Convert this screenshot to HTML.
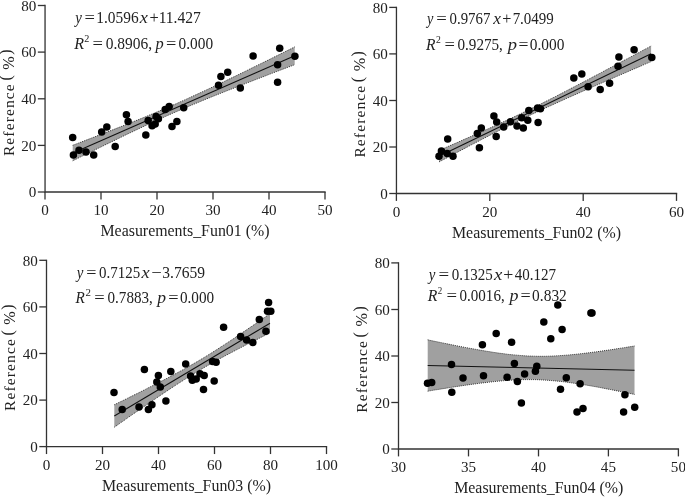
<!DOCTYPE html>
<html><head><meta charset="utf-8"><style>
html,body{margin:0;padding:0;background:#fff}
svg{display:block}
text{font-family:"Liberation Serif",serif;fill:#222}
.t{font-size:15.1px}
.l{font-size:15.9px}
.yl{font-size:15.5px;letter-spacing:1.12px}
.yp{font-size:16.2px}
.ypp{font-size:15.8px}
.e{font-size:16.7px}
.i{font-style:italic}
.sup{font-size:9.3px}
</style></head><body>
<svg width="685" height="497" viewBox="0 0 685 497">
<defs><filter id="idf" x="0" y="0" width="685" height="497" filterUnits="userSpaceOnUse" color-interpolation-filters="sRGB"><feOffset dx="0" dy="0"/></filter></defs>
<rect width="685" height="497" fill="#fff"/>
<g filter="url(#idf)">
<path d="M72.7,145.3 L76.4,143.9 L80.1,142.5 L83.8,141.1 L87.5,139.6 L91.2,138.2 L94.9,136.8 L98.6,135.3 L102.3,133.9 L106.0,132.5 L109.7,131.0 L113.4,129.6 L117.1,128.1 L120.8,126.7 L124.5,125.2 L128.2,123.7 L131.9,122.3 L135.6,120.8 L139.3,119.3 L143.0,117.8 L146.7,116.3 L150.4,114.7 L154.1,113.2 L157.8,111.6 L161.5,110.1 L165.2,108.5 L168.9,106.9 L172.6,105.3 L176.3,103.7 L180.0,102.0 L183.7,100.4 L187.4,98.7 L191.1,97.0 L194.8,95.3 L198.5,93.6 L202.2,91.9 L205.9,90.2 L209.6,88.4 L213.3,86.7 L217.0,84.9 L220.7,83.2 L224.4,81.4 L228.1,79.6 L231.8,77.8 L235.5,76.1 L239.2,74.3 L242.9,72.5 L246.6,70.7 L250.3,68.8 L254.0,67.0 L257.7,65.2 L261.4,63.4 L265.1,61.6 L268.8,59.8 L272.5,57.9 L276.2,56.1 L279.9,54.3 L283.6,52.4 L287.3,50.6 L291.0,48.8 L294.7,46.9 L294.7,64.7 L291.0,66.1 L287.3,67.5 L283.6,68.9 L279.9,70.3 L276.2,71.7 L272.5,73.1 L268.8,74.5 L265.1,76.0 L261.4,77.4 L257.7,78.8 L254.0,80.2 L250.3,81.7 L246.6,83.1 L242.9,84.5 L239.2,86.0 L235.5,87.4 L231.8,88.9 L228.1,90.3 L224.4,91.8 L220.7,93.3 L217.0,94.7 L213.3,96.2 L209.6,97.7 L205.9,99.2 L202.2,100.7 L198.5,102.3 L194.8,103.8 L191.1,105.3 L187.4,106.9 L183.7,108.5 L180.0,110.1 L176.3,111.7 L172.6,113.3 L168.9,114.9 L165.2,116.6 L161.5,118.2 L157.8,119.9 L154.1,121.6 L150.4,123.3 L146.7,125.0 L143.0,126.7 L139.3,128.5 L135.6,130.2 L131.9,132.0 L128.2,133.7 L124.5,135.5 L120.8,137.3 L117.1,139.1 L113.4,140.9 L109.7,142.7 L106.0,144.4 L102.3,146.3 L98.6,148.1 L94.9,149.9 L91.2,151.7 L87.5,153.5 L83.8,155.3 L80.1,157.1 L76.4,159.0 L72.7,160.8Z" fill="#a0a0a0"/>
<path d="M72.7,145.3 L76.4,143.9 L80.1,142.5 L83.8,141.1 L87.5,139.6 L91.2,138.2 L94.9,136.8 L98.6,135.3 L102.3,133.9 L106.0,132.5 L109.7,131.0 L113.4,129.6 L117.1,128.1 L120.8,126.7 L124.5,125.2 L128.2,123.7 L131.9,122.3 L135.6,120.8 L139.3,119.3 L143.0,117.8 L146.7,116.3 L150.4,114.7 L154.1,113.2 L157.8,111.6 L161.5,110.1 L165.2,108.5 L168.9,106.9 L172.6,105.3 L176.3,103.7 L180.0,102.0 L183.7,100.4 L187.4,98.7 L191.1,97.0 L194.8,95.3 L198.5,93.6 L202.2,91.9 L205.9,90.2 L209.6,88.4 L213.3,86.7 L217.0,84.9 L220.7,83.2 L224.4,81.4 L228.1,79.6 L231.8,77.8 L235.5,76.1 L239.2,74.3 L242.9,72.5 L246.6,70.7 L250.3,68.8 L254.0,67.0 L257.7,65.2 L261.4,63.4 L265.1,61.6 L268.8,59.8 L272.5,57.9 L276.2,56.1 L279.9,54.3 L283.6,52.4 L287.3,50.6 L291.0,48.8 L294.7,46.9" fill="none" stroke="#333" stroke-width="1" stroke-dasharray="1 1"/>
<path d="M72.7,160.8 L76.4,159.0 L80.1,157.1 L83.8,155.3 L87.5,153.5 L91.2,151.7 L94.9,149.9 L98.6,148.1 L102.3,146.3 L106.0,144.4 L109.7,142.7 L113.4,140.9 L117.1,139.1 L120.8,137.3 L124.5,135.5 L128.2,133.7 L131.9,132.0 L135.6,130.2 L139.3,128.5 L143.0,126.7 L146.7,125.0 L150.4,123.3 L154.1,121.6 L157.8,119.9 L161.5,118.2 L165.2,116.6 L168.9,114.9 L172.6,113.3 L176.3,111.7 L180.0,110.1 L183.7,108.5 L187.4,106.9 L191.1,105.3 L194.8,103.8 L198.5,102.3 L202.2,100.7 L205.9,99.2 L209.6,97.7 L213.3,96.2 L217.0,94.7 L220.7,93.3 L224.4,91.8 L228.1,90.3 L231.8,88.9 L235.5,87.4 L239.2,86.0 L242.9,84.5 L246.6,83.1 L250.3,81.7 L254.0,80.2 L257.7,78.8 L261.4,77.4 L265.1,76.0 L268.8,74.5 L272.5,73.1 L276.2,71.7 L279.9,70.3 L283.6,68.9 L287.3,67.5 L291.0,66.1 L294.7,64.7" fill="none" stroke="#333" stroke-width="1" stroke-dasharray="1 1"/>
<line x1="73.5" y1="152.7" x2="294.7" y2="55.8" stroke="#111" stroke-width="1.05"/>
<path d="M45.05,4.85 V192.0 H325.65" fill="none" stroke="#333" stroke-width="1.3"/>
<line x1="37.85" y1="192.0" x2="45.05" y2="192.0" stroke="#333" stroke-width="1.3"/>
<text x="36.35" y="197.2" text-anchor="end" class="t">0</text>
<line x1="37.85" y1="145.4" x2="45.05" y2="145.4" stroke="#333" stroke-width="1.3"/>
<text x="36.35" y="150.6" text-anchor="end" class="t">20</text>
<line x1="37.85" y1="98.8" x2="45.05" y2="98.8" stroke="#333" stroke-width="1.3"/>
<text x="36.35" y="104.0" text-anchor="end" class="t">40</text>
<line x1="37.85" y1="52.1" x2="45.05" y2="52.1" stroke="#333" stroke-width="1.3"/>
<text x="36.35" y="57.3" text-anchor="end" class="t">60</text>
<line x1="37.85" y1="5.5" x2="45.05" y2="5.5" stroke="#333" stroke-width="1.3"/>
<text x="36.35" y="10.7" text-anchor="end" class="t">80</text>
<line x1="45.0" y1="192.0" x2="45.0" y2="199.4" stroke="#333" stroke-width="1.3"/>
<text x="45.0" y="215.0" text-anchor="middle" class="t">0</text>
<line x1="101.0" y1="192.0" x2="101.0" y2="199.4" stroke="#333" stroke-width="1.3"/>
<text x="101.0" y="215.0" text-anchor="middle" class="t">10</text>
<line x1="157.0" y1="192.0" x2="157.0" y2="199.4" stroke="#333" stroke-width="1.3"/>
<text x="157.0" y="215.0" text-anchor="middle" class="t">20</text>
<line x1="213.0" y1="192.0" x2="213.0" y2="199.4" stroke="#333" stroke-width="1.3"/>
<text x="213.0" y="215.0" text-anchor="middle" class="t">30</text>
<line x1="269.0" y1="192.0" x2="269.0" y2="199.4" stroke="#333" stroke-width="1.3"/>
<text x="269.0" y="215.0" text-anchor="middle" class="t">40</text>
<line x1="325.0" y1="192.0" x2="325.0" y2="199.4" stroke="#333" stroke-width="1.3"/>
<text x="325.0" y="215.0" text-anchor="middle" class="t">50</text>
<circle cx="72.7" cy="137.4" r="3.75"/>
<circle cx="73.4" cy="154.9" r="3.75"/>
<circle cx="79.0" cy="150.2" r="3.75"/>
<circle cx="86.0" cy="152.1" r="3.75"/>
<circle cx="93.7" cy="154.9" r="3.75"/>
<circle cx="101.7" cy="132.0" r="3.75"/>
<circle cx="106.8" cy="127.1" r="3.75"/>
<circle cx="115.2" cy="146.5" r="3.75"/>
<circle cx="126.4" cy="114.7" r="3.75"/>
<circle cx="128.1" cy="121.5" r="3.75"/>
<circle cx="145.8" cy="135.0" r="3.75"/>
<circle cx="148.2" cy="120.6" r="3.75"/>
<circle cx="152.1" cy="125.7" r="3.75"/>
<circle cx="155.2" cy="124.1" r="3.75"/>
<circle cx="156.1" cy="116.4" r="3.75"/>
<circle cx="158.4" cy="118.7" r="3.75"/>
<circle cx="165.2" cy="109.6" r="3.75"/>
<circle cx="169.2" cy="106.6" r="3.75"/>
<circle cx="172.0" cy="126.6" r="3.75"/>
<circle cx="176.9" cy="121.5" r="3.75"/>
<circle cx="183.7" cy="107.7" r="3.75"/>
<circle cx="218.5" cy="85.2" r="3.75"/>
<circle cx="220.9" cy="76.6" r="3.75"/>
<circle cx="227.7" cy="72.2" r="3.75"/>
<circle cx="240.3" cy="88.0" r="3.75"/>
<circle cx="253.1" cy="56.0" r="3.75"/>
<circle cx="277.6" cy="82.2" r="3.75"/>
<circle cx="277.6" cy="64.7" r="3.75"/>
<circle cx="279.7" cy="48.3" r="3.75"/>
<circle cx="294.9" cy="56.3" r="3.75"/>
<text x="185.0" y="236.0" text-anchor="middle" class="l" style="letter-spacing:0px">Measurements_Fun01 (%)</text>
<text transform="translate(13.70,156.1) rotate(-90)" class="yl">Reference</text>
<text transform="translate(11.45,80.6) rotate(-90)" class="ypp">(</text>
<text transform="translate(13.80,69.8) rotate(-90)" class="yp">%</text>
<text transform="translate(11.45,54.8) rotate(-90)" class="ypp">)</text>
<text transform="translate(75.37,22.6) scale(0.893,1)" class="e i">y</text>
<text transform="translate(84.42,22.6) scale(1.108,1)" class="e">=</text>
<text transform="translate(96.25,22.6) scale(0.923,1)" class="e">1.0596</text>
<text transform="translate(139.83,22.6) scale(1.091,1)" class="e i">x</text>
<text transform="translate(149.52,22.6) scale(0.981,1)" class="e">+</text>
<text transform="translate(158.64,22.6) scale(0.931,1)" class="e">11.427</text>
<text transform="translate(74.22,48.5) scale(0.964,1)" class="e i">R</text>
<text transform="translate(84.37,41.6) scale(1.095,1)" class="sup">2</text>
<text transform="translate(92.62,48.5) scale(1.108,1)" class="e">=</text>
<text transform="translate(105.72,48.5) scale(0.927,1)" class="e">0.8906,</text>
<text transform="translate(155.58,48.5) scale(0.983,1)" class="e i">p</text>
<text transform="translate(166.03,48.5) scale(1.096,1)" class="e">=</text>
<text transform="translate(178.52,48.5) scale(0.920,1)" class="e">0.000</text>
<path d="M439.0,150.5 L442.5,148.9 L446.1,147.4 L449.6,145.8 L453.1,144.3 L456.7,142.8 L460.2,141.2 L463.7,139.6 L467.3,138.1 L470.8,136.5 L474.4,135.0 L477.9,133.4 L481.4,131.8 L485.0,130.2 L488.5,128.7 L492.0,127.1 L495.6,125.5 L499.1,123.8 L502.6,122.2 L506.2,120.6 L509.7,118.9 L513.2,117.3 L516.8,115.6 L520.3,113.9 L523.8,112.2 L527.4,110.5 L530.9,108.8 L534.4,107.1 L538.0,105.3 L541.5,103.6 L545.0,101.8 L548.6,100.0 L552.1,98.2 L555.7,96.4 L559.2,94.6 L562.7,92.8 L566.3,90.9 L569.8,89.1 L573.3,87.3 L576.9,85.4 L580.4,83.6 L583.9,81.7 L587.5,79.9 L591.0,78.0 L594.5,76.1 L598.1,74.3 L601.6,72.4 L605.1,70.5 L608.7,68.6 L612.2,66.8 L615.8,64.9 L619.3,63.0 L622.8,61.1 L626.4,59.2 L629.9,57.4 L633.4,55.5 L637.0,53.6 L640.5,51.7 L644.0,49.8 L647.6,47.9 L651.1,46.0 L651.1,61.6 L647.6,63.1 L644.0,64.6 L640.5,66.2 L637.0,67.7 L633.4,69.2 L629.9,70.7 L626.4,72.3 L622.8,73.8 L619.3,75.3 L615.8,76.8 L612.2,78.4 L608.7,79.9 L605.1,81.5 L601.6,83.0 L598.1,84.5 L594.5,86.1 L591.0,87.6 L587.5,89.2 L583.9,90.7 L580.4,92.3 L576.9,93.9 L573.3,95.4 L569.8,97.0 L566.3,98.6 L562.7,100.2 L559.2,101.8 L555.7,103.4 L552.1,105.0 L548.6,106.6 L545.0,108.2 L541.5,109.9 L538.0,111.5 L534.4,113.2 L530.9,114.8 L527.4,116.5 L523.8,118.2 L520.3,120.0 L516.8,121.7 L513.2,123.4 L509.7,125.2 L506.2,127.0 L502.6,128.7 L499.1,130.5 L495.6,132.3 L492.0,134.1 L488.5,136.0 L485.0,137.8 L481.4,139.6 L477.9,141.5 L474.4,143.3 L470.8,145.1 L467.3,147.0 L463.7,148.9 L460.2,150.7 L456.7,152.6 L453.1,154.5 L449.6,156.3 L446.1,158.2 L442.5,160.1 L439.0,161.9Z" fill="#a0a0a0"/>
<path d="M439.0,150.5 L442.5,148.9 L446.1,147.4 L449.6,145.8 L453.1,144.3 L456.7,142.8 L460.2,141.2 L463.7,139.6 L467.3,138.1 L470.8,136.5 L474.4,135.0 L477.9,133.4 L481.4,131.8 L485.0,130.2 L488.5,128.7 L492.0,127.1 L495.6,125.5 L499.1,123.8 L502.6,122.2 L506.2,120.6 L509.7,118.9 L513.2,117.3 L516.8,115.6 L520.3,113.9 L523.8,112.2 L527.4,110.5 L530.9,108.8 L534.4,107.1 L538.0,105.3 L541.5,103.6 L545.0,101.8 L548.6,100.0 L552.1,98.2 L555.7,96.4 L559.2,94.6 L562.7,92.8 L566.3,90.9 L569.8,89.1 L573.3,87.3 L576.9,85.4 L580.4,83.6 L583.9,81.7 L587.5,79.9 L591.0,78.0 L594.5,76.1 L598.1,74.3 L601.6,72.4 L605.1,70.5 L608.7,68.6 L612.2,66.8 L615.8,64.9 L619.3,63.0 L622.8,61.1 L626.4,59.2 L629.9,57.4 L633.4,55.5 L637.0,53.6 L640.5,51.7 L644.0,49.8 L647.6,47.9 L651.1,46.0" fill="none" stroke="#333" stroke-width="1" stroke-dasharray="1 1"/>
<path d="M439.0,161.9 L442.5,160.1 L446.1,158.2 L449.6,156.3 L453.1,154.5 L456.7,152.6 L460.2,150.7 L463.7,148.9 L467.3,147.0 L470.8,145.1 L474.4,143.3 L477.9,141.5 L481.4,139.6 L485.0,137.8 L488.5,136.0 L492.0,134.1 L495.6,132.3 L499.1,130.5 L502.6,128.7 L506.2,127.0 L509.7,125.2 L513.2,123.4 L516.8,121.7 L520.3,120.0 L523.8,118.2 L527.4,116.5 L530.9,114.8 L534.4,113.2 L538.0,111.5 L541.5,109.9 L545.0,108.2 L548.6,106.6 L552.1,105.0 L555.7,103.4 L559.2,101.8 L562.7,100.2 L566.3,98.6 L569.8,97.0 L573.3,95.4 L576.9,93.9 L580.4,92.3 L583.9,90.7 L587.5,89.2 L591.0,87.6 L594.5,86.1 L598.1,84.5 L601.6,83.0 L605.1,81.5 L608.7,79.9 L612.2,78.4 L615.8,76.8 L619.3,75.3 L622.8,73.8 L626.4,72.3 L629.9,70.7 L633.4,69.2 L637.0,67.7 L640.5,66.2 L644.0,64.6 L647.6,63.1 L651.1,61.6" fill="none" stroke="#333" stroke-width="1" stroke-dasharray="1 1"/>
<line x1="439" y1="156.2" x2="651.1" y2="53.8" stroke="#111" stroke-width="1.05"/>
<path d="M396.45,6.75 V193.5 H677.20" fill="none" stroke="#333" stroke-width="1.3"/>
<line x1="389.25" y1="193.5" x2="396.45" y2="193.5" stroke="#333" stroke-width="1.3"/>
<text x="387.75" y="198.7" text-anchor="end" class="t">0</text>
<line x1="389.25" y1="147.0" x2="396.45" y2="147.0" stroke="#333" stroke-width="1.3"/>
<text x="387.75" y="152.2" text-anchor="end" class="t">20</text>
<line x1="389.25" y1="100.5" x2="396.45" y2="100.5" stroke="#333" stroke-width="1.3"/>
<text x="387.75" y="105.7" text-anchor="end" class="t">40</text>
<line x1="389.25" y1="53.9" x2="396.45" y2="53.9" stroke="#333" stroke-width="1.3"/>
<text x="387.75" y="59.1" text-anchor="end" class="t">60</text>
<line x1="389.25" y1="7.4" x2="396.45" y2="7.4" stroke="#333" stroke-width="1.3"/>
<text x="387.75" y="12.6" text-anchor="end" class="t">80</text>
<line x1="396.4" y1="193.5" x2="396.4" y2="200.9" stroke="#333" stroke-width="1.3"/>
<text x="396.4" y="216.5" text-anchor="middle" class="t">0</text>
<line x1="489.8" y1="193.5" x2="489.8" y2="200.9" stroke="#333" stroke-width="1.3"/>
<text x="489.8" y="216.5" text-anchor="middle" class="t">20</text>
<line x1="583.2" y1="193.5" x2="583.2" y2="200.9" stroke="#333" stroke-width="1.3"/>
<text x="583.2" y="216.5" text-anchor="middle" class="t">40</text>
<line x1="676.5" y1="193.5" x2="676.5" y2="200.9" stroke="#333" stroke-width="1.3"/>
<text x="676.5" y="216.5" text-anchor="middle" class="t">60</text>
<circle cx="439.0" cy="156.2" r="3.75"/>
<circle cx="441.4" cy="151.1" r="3.75"/>
<circle cx="447.7" cy="139.0" r="3.75"/>
<circle cx="447.2" cy="153.4" r="3.75"/>
<circle cx="453.0" cy="156.2" r="3.75"/>
<circle cx="477.3" cy="133.6" r="3.75"/>
<circle cx="479.4" cy="147.8" r="3.75"/>
<circle cx="481.3" cy="128.0" r="3.75"/>
<circle cx="493.9" cy="116.1" r="3.75"/>
<circle cx="496.2" cy="136.4" r="3.75"/>
<circle cx="496.7" cy="122.1" r="3.75"/>
<circle cx="503.7" cy="127.0" r="3.75"/>
<circle cx="510.5" cy="121.7" r="3.75"/>
<circle cx="517.0" cy="125.9" r="3.75"/>
<circle cx="521.7" cy="117.7" r="3.75"/>
<circle cx="523.3" cy="128.0" r="3.75"/>
<circle cx="527.8" cy="120.3" r="3.75"/>
<circle cx="528.8" cy="110.5" r="3.75"/>
<circle cx="537.6" cy="108.1" r="3.75"/>
<circle cx="538.1" cy="122.4" r="3.75"/>
<circle cx="540.4" cy="108.8" r="3.75"/>
<circle cx="573.8" cy="77.9" r="3.75"/>
<circle cx="581.8" cy="73.9" r="3.75"/>
<circle cx="588.1" cy="86.8" r="3.75"/>
<circle cx="600.2" cy="89.4" r="3.75"/>
<circle cx="609.6" cy="83.3" r="3.75"/>
<circle cx="618.0" cy="66.3" r="3.75"/>
<circle cx="618.9" cy="57.1" r="3.75"/>
<circle cx="634.1" cy="49.7" r="3.75"/>
<circle cx="651.8" cy="57.4" r="3.75"/>
<text x="536.5" y="237.5" text-anchor="middle" class="l" style="letter-spacing:0px">Measurements_Fun02 (%)</text>
<text transform="translate(365.10,157.6) rotate(-90)" class="yl">Reference</text>
<text transform="translate(362.85,82.2) rotate(-90)" class="ypp">(</text>
<text transform="translate(365.20,71.3) rotate(-90)" class="yp">%</text>
<text transform="translate(362.85,56.4) rotate(-90)" class="ypp">)</text>
<text transform="translate(427.12,24.4) scale(0.859,1)" class="e i">y</text>
<text transform="translate(436.31,24.4) scale(1.121,1)" class="e">=</text>
<text transform="translate(449.54,24.4) scale(0.888,1)" class="e">0.9767</text>
<text transform="translate(493.22,24.4) scale(1.038,1)" class="e i">x</text>
<text transform="translate(502.13,24.4) scale(0.968,1)" class="e">+</text>
<text transform="translate(512.63,24.4) scale(0.897,1)" class="e">7.0499</text>
<text transform="translate(426.02,49.6) scale(0.934,1)" class="e i">R</text>
<text transform="translate(435.89,42.7) scale(1.042,1)" class="sup">2</text>
<text transform="translate(444.62,49.6) scale(1.108,1)" class="e">=</text>
<text transform="translate(457.43,49.6) scale(0.909,1)" class="e">0.9275,</text>
<text transform="translate(507.81,49.6) scale(1.107,1)" class="e i">p</text>
<text transform="translate(518.56,49.6) scale(1.057,1)" class="e">=</text>
<text transform="translate(529.72,49.6) scale(0.922,1)" class="e">0.000</text>
<path d="M114.3,404.8 L116.9,403.5 L119.5,402.2 L122.1,401.0 L124.7,399.7 L127.3,398.4 L129.9,397.1 L132.5,395.8 L135.1,394.5 L137.7,393.3 L140.2,392.0 L142.8,390.7 L145.4,389.4 L148.0,388.0 L150.6,386.7 L153.2,385.4 L155.8,384.1 L158.4,382.8 L161.0,381.4 L163.6,380.1 L166.2,378.7 L168.8,377.4 L171.4,376.0 L174.0,374.6 L176.6,373.2 L179.2,371.8 L181.8,370.4 L184.4,369.0 L187.0,367.5 L189.6,366.0 L192.1,364.6 L194.7,363.1 L197.3,361.6 L199.9,360.0 L202.5,358.5 L205.1,356.9 L207.7,355.3 L210.3,353.7 L212.9,352.1 L215.5,350.4 L218.1,348.8 L220.7,347.1 L223.3,345.4 L225.9,343.7 L228.5,342.0 L231.1,340.3 L233.7,338.6 L236.3,336.8 L238.9,335.1 L241.5,333.3 L244.0,331.6 L246.6,329.8 L249.2,328.0 L251.8,326.3 L254.4,324.5 L257.0,322.7 L259.6,320.9 L262.2,319.1 L264.8,317.3 L267.4,315.5 L270.0,313.7 L270.0,332.9 L267.4,334.2 L264.8,335.5 L262.2,336.8 L259.6,338.1 L257.0,339.4 L254.4,340.7 L251.8,342.0 L249.2,343.3 L246.6,344.6 L244.0,345.9 L241.5,347.3 L238.9,348.6 L236.3,349.9 L233.7,351.3 L231.1,352.7 L228.5,354.0 L225.9,355.4 L223.3,356.8 L220.7,358.2 L218.1,359.6 L215.5,361.1 L212.9,362.5 L210.3,364.0 L207.7,365.5 L205.1,367.0 L202.5,368.5 L199.9,370.0 L197.3,371.6 L194.7,373.1 L192.1,374.7 L189.6,376.3 L187.0,378.0 L184.4,379.6 L181.8,381.3 L179.2,382.9 L176.6,384.6 L174.0,386.3 L171.4,388.0 L168.8,389.7 L166.2,391.5 L163.6,393.2 L161.0,395.0 L158.4,396.7 L155.8,398.5 L153.2,400.2 L150.6,402.0 L148.0,403.8 L145.4,405.6 L142.8,407.4 L140.2,409.1 L137.7,410.9 L135.1,412.7 L132.5,414.5 L129.9,416.3 L127.3,418.1 L124.7,420.0 L122.1,421.8 L119.5,423.6 L116.9,425.4 L114.3,427.2Z" fill="#a0a0a0"/>
<path d="M114.3,404.8 L116.9,403.5 L119.5,402.2 L122.1,401.0 L124.7,399.7 L127.3,398.4 L129.9,397.1 L132.5,395.8 L135.1,394.5 L137.7,393.3 L140.2,392.0 L142.8,390.7 L145.4,389.4 L148.0,388.0 L150.6,386.7 L153.2,385.4 L155.8,384.1 L158.4,382.8 L161.0,381.4 L163.6,380.1 L166.2,378.7 L168.8,377.4 L171.4,376.0 L174.0,374.6 L176.6,373.2 L179.2,371.8 L181.8,370.4 L184.4,369.0 L187.0,367.5 L189.6,366.0 L192.1,364.6 L194.7,363.1 L197.3,361.6 L199.9,360.0 L202.5,358.5 L205.1,356.9 L207.7,355.3 L210.3,353.7 L212.9,352.1 L215.5,350.4 L218.1,348.8 L220.7,347.1 L223.3,345.4 L225.9,343.7 L228.5,342.0 L231.1,340.3 L233.7,338.6 L236.3,336.8 L238.9,335.1 L241.5,333.3 L244.0,331.6 L246.6,329.8 L249.2,328.0 L251.8,326.3 L254.4,324.5 L257.0,322.7 L259.6,320.9 L262.2,319.1 L264.8,317.3 L267.4,315.5 L270.0,313.7" fill="none" stroke="#333" stroke-width="1" stroke-dasharray="1 1"/>
<path d="M114.3,427.2 L116.9,425.4 L119.5,423.6 L122.1,421.8 L124.7,420.0 L127.3,418.1 L129.9,416.3 L132.5,414.5 L135.1,412.7 L137.7,410.9 L140.2,409.1 L142.8,407.4 L145.4,405.6 L148.0,403.8 L150.6,402.0 L153.2,400.2 L155.8,398.5 L158.4,396.7 L161.0,395.0 L163.6,393.2 L166.2,391.5 L168.8,389.7 L171.4,388.0 L174.0,386.3 L176.6,384.6 L179.2,382.9 L181.8,381.3 L184.4,379.6 L187.0,378.0 L189.6,376.3 L192.1,374.7 L194.7,373.1 L197.3,371.6 L199.9,370.0 L202.5,368.5 L205.1,367.0 L207.7,365.5 L210.3,364.0 L212.9,362.5 L215.5,361.1 L218.1,359.6 L220.7,358.2 L223.3,356.8 L225.9,355.4 L228.5,354.0 L231.1,352.7 L233.7,351.3 L236.3,349.9 L238.9,348.6 L241.5,347.3 L244.0,345.9 L246.6,344.6 L249.2,343.3 L251.8,342.0 L254.4,340.7 L257.0,339.4 L259.6,338.1 L262.2,336.8 L264.8,335.5 L267.4,334.2 L270.0,332.9" fill="none" stroke="#333" stroke-width="1" stroke-dasharray="1 1"/>
<line x1="114.3" y1="416.0" x2="270" y2="323.3" stroke="#111" stroke-width="1.05"/>
<path d="M46.5,259.65 V446.65 H327.15" fill="none" stroke="#333" stroke-width="1.3"/>
<line x1="39.30" y1="446.6" x2="46.5" y2="446.6" stroke="#333" stroke-width="1.3"/>
<text x="37.80" y="451.8" text-anchor="end" class="t">0</text>
<line x1="39.30" y1="400.1" x2="46.5" y2="400.1" stroke="#333" stroke-width="1.3"/>
<text x="37.80" y="405.3" text-anchor="end" class="t">20</text>
<line x1="39.30" y1="353.5" x2="46.5" y2="353.5" stroke="#333" stroke-width="1.3"/>
<text x="37.80" y="358.7" text-anchor="end" class="t">40</text>
<line x1="39.30" y1="306.9" x2="46.5" y2="306.9" stroke="#333" stroke-width="1.3"/>
<text x="37.80" y="312.1" text-anchor="end" class="t">60</text>
<line x1="39.30" y1="260.3" x2="46.5" y2="260.3" stroke="#333" stroke-width="1.3"/>
<text x="37.80" y="265.5" text-anchor="end" class="t">80</text>
<line x1="46.5" y1="446.65" x2="46.5" y2="454.04999999999995" stroke="#333" stroke-width="1.3"/>
<text x="46.5" y="469.6" text-anchor="middle" class="t">0</text>
<line x1="102.5" y1="446.65" x2="102.5" y2="454.04999999999995" stroke="#333" stroke-width="1.3"/>
<text x="102.5" y="469.6" text-anchor="middle" class="t">20</text>
<line x1="158.5" y1="446.65" x2="158.5" y2="454.04999999999995" stroke="#333" stroke-width="1.3"/>
<text x="158.5" y="469.6" text-anchor="middle" class="t">40</text>
<line x1="214.5" y1="446.65" x2="214.5" y2="454.04999999999995" stroke="#333" stroke-width="1.3"/>
<text x="214.5" y="469.6" text-anchor="middle" class="t">60</text>
<line x1="270.5" y1="446.65" x2="270.5" y2="454.04999999999995" stroke="#333" stroke-width="1.3"/>
<text x="270.5" y="469.6" text-anchor="middle" class="t">80</text>
<line x1="326.5" y1="446.65" x2="326.5" y2="454.04999999999995" stroke="#333" stroke-width="1.3"/>
<text x="326.5" y="469.6" text-anchor="middle" class="t">100</text>
<circle cx="114.0" cy="392.4" r="3.75"/>
<circle cx="122.2" cy="409.5" r="3.75"/>
<circle cx="139.0" cy="406.9" r="3.75"/>
<circle cx="144.4" cy="369.5" r="3.75"/>
<circle cx="148.4" cy="409.5" r="3.75"/>
<circle cx="151.9" cy="404.8" r="3.75"/>
<circle cx="158.4" cy="375.6" r="3.75"/>
<circle cx="156.8" cy="381.9" r="3.75"/>
<circle cx="160.3" cy="387.0" r="3.75"/>
<circle cx="165.9" cy="401.1" r="3.75"/>
<circle cx="170.8" cy="371.4" r="3.75"/>
<circle cx="185.7" cy="363.9" r="3.75"/>
<circle cx="190.6" cy="376.1" r="3.75"/>
<circle cx="192.3" cy="380.3" r="3.75"/>
<circle cx="196.2" cy="379.1" r="3.75"/>
<circle cx="200.0" cy="373.7" r="3.75"/>
<circle cx="204.2" cy="375.4" r="3.75"/>
<circle cx="203.5" cy="389.6" r="3.75"/>
<circle cx="212.6" cy="361.6" r="3.75"/>
<circle cx="216.1" cy="362.3" r="3.75"/>
<circle cx="214.2" cy="381.0" r="3.75"/>
<circle cx="223.6" cy="327.2" r="3.75"/>
<circle cx="240.6" cy="336.6" r="3.75"/>
<circle cx="246.6" cy="339.9" r="3.75"/>
<circle cx="252.8" cy="342.5" r="3.75"/>
<circle cx="259.3" cy="319.4" r="3.75"/>
<circle cx="265.9" cy="331.3" r="3.75"/>
<circle cx="268.6" cy="302.6" r="3.75"/>
<circle cx="267.5" cy="311.2" r="3.75"/>
<circle cx="270.8" cy="311.2" r="3.75"/>
<text x="186.5" y="490.8" text-anchor="middle" class="l" style="letter-spacing:0px">Measurements_Fun03 (%)</text>
<text transform="translate(15.15,411.0) rotate(-90)" class="yl">Reference</text>
<text transform="translate(12.90,335.6) rotate(-90)" class="ypp">(</text>
<text transform="translate(15.25,324.7) rotate(-90)" class="yp">%</text>
<text transform="translate(12.90,309.8) rotate(-90)" class="ypp">)</text>
<text transform="translate(76.77,277.5) scale(0.893,1)" class="e i">y</text>
<text transform="translate(86.24,277.5) scale(1.083,1)" class="e">=</text>
<text transform="translate(99.04,277.5) scale(0.895,1)" class="e">0.7125</text>
<text transform="translate(141.43,277.5) scale(1.104,1)" class="e i">x</text>
<text transform="translate(151.22,277.5) scale(1.108,1)" class="e">&#8722;</text>
<text transform="translate(162.26,277.5) scale(0.931,1)" class="e">3.7659</text>
<text transform="translate(75.61,302.8) scale(0.914,1)" class="e i">R</text>
<text transform="translate(85.54,295.9) scale(1.175,1)" class="sup">2</text>
<text transform="translate(94.32,302.8) scale(1.108,1)" class="e">=</text>
<text transform="translate(107.53,302.8) scale(0.906,1)" class="e">0.7883,</text>
<text transform="translate(157.35,302.8) scale(1.051,1)" class="e i">p</text>
<text transform="translate(168.33,302.8) scale(1.096,1)" class="e">=</text>
<text transform="translate(179.93,302.8) scale(0.911,1)" class="e">0.000</text>
<path d="M427.7,339.8 L431.1,340.6 L434.6,341.3 L438.0,342.0 L441.5,342.7 L444.9,343.4 L448.4,344.1 L451.8,344.8 L455.3,345.5 L458.7,346.2 L462.2,346.9 L465.6,347.5 L469.1,348.2 L472.5,348.8 L476.0,349.4 L479.4,350.0 L482.8,350.6 L486.3,351.2 L489.7,351.7 L493.2,352.3 L496.6,352.8 L500.1,353.3 L503.5,353.7 L507.0,354.2 L510.4,354.6 L513.9,354.9 L517.3,355.2 L520.8,355.5 L524.2,355.8 L527.7,356.0 L531.1,356.1 L534.5,356.2 L538.0,356.3 L541.4,356.3 L544.9,356.3 L548.3,356.2 L551.8,356.1 L555.2,355.9 L558.7,355.7 L562.1,355.5 L565.6,355.2 L569.0,355.0 L572.5,354.6 L575.9,354.3 L579.4,353.9 L582.8,353.5 L586.2,353.1 L589.7,352.7 L593.1,352.2 L596.6,351.8 L600.0,351.3 L603.5,350.8 L606.9,350.3 L610.4,349.8 L613.8,349.3 L617.3,348.7 L620.7,348.2 L624.2,347.7 L627.6,347.1 L631.1,346.6 L634.5,346.0 L634.5,394.4 L631.1,393.7 L627.6,393.0 L624.2,392.3 L620.7,391.6 L617.3,390.9 L613.8,390.2 L610.4,389.5 L606.9,388.9 L603.5,388.2 L600.0,387.5 L596.6,386.9 L593.1,386.3 L589.7,385.7 L586.2,385.1 L582.8,384.5 L579.4,384.0 L575.9,383.5 L572.5,383.0 L569.0,382.5 L565.6,382.0 L562.1,381.6 L558.7,381.2 L555.2,380.9 L551.8,380.6 L548.3,380.3 L544.9,380.1 L541.4,379.9 L538.0,379.7 L534.5,379.6 L531.1,379.6 L527.7,379.6 L524.2,379.6 L520.8,379.7 L517.3,379.8 L513.9,380.0 L510.4,380.2 L507.0,380.4 L503.5,380.7 L500.1,381.0 L496.6,381.3 L493.2,381.7 L489.7,382.1 L486.3,382.5 L482.8,382.9 L479.4,383.3 L476.0,383.8 L472.5,384.2 L469.1,384.7 L465.6,385.2 L462.2,385.7 L458.7,386.2 L455.3,386.7 L451.8,387.3 L448.4,387.8 L444.9,388.4 L441.5,388.9 L438.0,389.5 L434.6,390.0 L431.1,390.6 L427.7,391.2Z" fill="#a0a0a0"/>
<path d="M427.7,339.8 L431.1,340.6 L434.6,341.3 L438.0,342.0 L441.5,342.7 L444.9,343.4 L448.4,344.1 L451.8,344.8 L455.3,345.5 L458.7,346.2 L462.2,346.9 L465.6,347.5 L469.1,348.2 L472.5,348.8 L476.0,349.4 L479.4,350.0 L482.8,350.6 L486.3,351.2 L489.7,351.7 L493.2,352.3 L496.6,352.8 L500.1,353.3 L503.5,353.7 L507.0,354.2 L510.4,354.6 L513.9,354.9 L517.3,355.2 L520.8,355.5 L524.2,355.8 L527.7,356.0 L531.1,356.1 L534.5,356.2 L538.0,356.3 L541.4,356.3 L544.9,356.3 L548.3,356.2 L551.8,356.1 L555.2,355.9 L558.7,355.7 L562.1,355.5 L565.6,355.2 L569.0,355.0 L572.5,354.6 L575.9,354.3 L579.4,353.9 L582.8,353.5 L586.2,353.1 L589.7,352.7 L593.1,352.2 L596.6,351.8 L600.0,351.3 L603.5,350.8 L606.9,350.3 L610.4,349.8 L613.8,349.3 L617.3,348.7 L620.7,348.2 L624.2,347.7 L627.6,347.1 L631.1,346.6 L634.5,346.0" fill="none" stroke="#333" stroke-width="1" stroke-dasharray="1 1"/>
<path d="M427.7,391.2 L431.1,390.6 L434.6,390.0 L438.0,389.5 L441.5,388.9 L444.9,388.4 L448.4,387.8 L451.8,387.3 L455.3,386.7 L458.7,386.2 L462.2,385.7 L465.6,385.2 L469.1,384.7 L472.5,384.2 L476.0,383.8 L479.4,383.3 L482.8,382.9 L486.3,382.5 L489.7,382.1 L493.2,381.7 L496.6,381.3 L500.1,381.0 L503.5,380.7 L507.0,380.4 L510.4,380.2 L513.9,380.0 L517.3,379.8 L520.8,379.7 L524.2,379.6 L527.7,379.6 L531.1,379.6 L534.5,379.6 L538.0,379.7 L541.4,379.9 L544.9,380.1 L548.3,380.3 L551.8,380.6 L555.2,380.9 L558.7,381.2 L562.1,381.6 L565.6,382.0 L569.0,382.5 L572.5,383.0 L575.9,383.5 L579.4,384.0 L582.8,384.5 L586.2,385.1 L589.7,385.7 L593.1,386.3 L596.6,386.9 L600.0,387.5 L603.5,388.2 L606.9,388.9 L610.4,389.5 L613.8,390.2 L617.3,390.9 L620.7,391.6 L624.2,392.3 L627.6,393.0 L631.1,393.7 L634.5,394.4" fill="none" stroke="#333" stroke-width="1" stroke-dasharray="1 1"/>
<line x1="427.7" y1="365.5" x2="634.5" y2="370.2" stroke="#111" stroke-width="1.05"/>
<path d="M398.5,262.30 V449.0 H679.05" fill="none" stroke="#333" stroke-width="1.3"/>
<line x1="391.30" y1="449.0" x2="398.5" y2="449.0" stroke="#333" stroke-width="1.3"/>
<text x="389.80" y="454.2" text-anchor="end" class="t">0</text>
<line x1="391.30" y1="402.5" x2="398.5" y2="402.5" stroke="#333" stroke-width="1.3"/>
<text x="389.80" y="407.7" text-anchor="end" class="t">20</text>
<line x1="391.30" y1="356.0" x2="398.5" y2="356.0" stroke="#333" stroke-width="1.3"/>
<text x="389.80" y="361.2" text-anchor="end" class="t">40</text>
<line x1="391.30" y1="309.5" x2="398.5" y2="309.5" stroke="#333" stroke-width="1.3"/>
<text x="389.80" y="314.7" text-anchor="end" class="t">60</text>
<line x1="391.30" y1="262.9" x2="398.5" y2="262.9" stroke="#333" stroke-width="1.3"/>
<text x="389.80" y="268.1" text-anchor="end" class="t">80</text>
<line x1="398.5" y1="449.0" x2="398.5" y2="456.4" stroke="#333" stroke-width="1.3"/>
<text x="398.5" y="472.0" text-anchor="middle" class="t">30</text>
<line x1="468.5" y1="449.0" x2="468.5" y2="456.4" stroke="#333" stroke-width="1.3"/>
<text x="468.5" y="472.0" text-anchor="middle" class="t">35</text>
<line x1="538.5" y1="449.0" x2="538.5" y2="456.4" stroke="#333" stroke-width="1.3"/>
<text x="538.5" y="472.0" text-anchor="middle" class="t">40</text>
<line x1="608.4" y1="449.0" x2="608.4" y2="456.4" stroke="#333" stroke-width="1.3"/>
<text x="608.4" y="472.0" text-anchor="middle" class="t">45</text>
<line x1="678.4" y1="449.0" x2="678.4" y2="456.4" stroke="#333" stroke-width="1.3"/>
<text x="678.4" y="472.0" text-anchor="middle" class="t">50</text>
<circle cx="427.5" cy="383.3" r="3.75"/>
<circle cx="431.7" cy="382.6" r="3.75"/>
<circle cx="451.5" cy="364.4" r="3.75"/>
<circle cx="451.8" cy="392.2" r="3.75"/>
<circle cx="463.0" cy="377.9" r="3.75"/>
<circle cx="482.4" cy="344.8" r="3.75"/>
<circle cx="483.5" cy="375.8" r="3.75"/>
<circle cx="496.2" cy="333.5" r="3.75"/>
<circle cx="507.1" cy="377.2" r="3.75"/>
<circle cx="511.6" cy="342.2" r="3.75"/>
<circle cx="514.4" cy="363.4" r="3.75"/>
<circle cx="517.4" cy="381.4" r="3.75"/>
<circle cx="521.4" cy="402.9" r="3.75"/>
<circle cx="524.6" cy="374.0" r="3.75"/>
<circle cx="535.4" cy="371.2" r="3.75"/>
<circle cx="536.8" cy="366.2" r="3.75"/>
<circle cx="543.8" cy="321.9" r="3.75"/>
<circle cx="550.8" cy="338.7" r="3.75"/>
<circle cx="557.8" cy="305.0" r="3.75"/>
<circle cx="562.1" cy="329.6" r="3.75"/>
<circle cx="560.5" cy="389.2" r="3.75"/>
<circle cx="566.3" cy="377.8" r="3.75"/>
<circle cx="580.1" cy="383.8" r="3.75"/>
<circle cx="577.0" cy="411.9" r="3.75"/>
<circle cx="583.0" cy="408.6" r="3.75"/>
<circle cx="590.9" cy="312.9" r="3.75"/>
<circle cx="592.0" cy="313.0" r="3.75"/>
<circle cx="624.9" cy="394.8" r="3.75"/>
<circle cx="623.6" cy="411.9" r="3.75"/>
<circle cx="634.7" cy="407.2" r="3.75"/>
<text x="538.7" y="492.6" text-anchor="middle" class="l" style="letter-spacing:0px">Measurements_Fun04 (%)</text>
<text transform="translate(367.15,412.8) rotate(-90)" class="yl">Reference</text>
<text transform="translate(364.90,337.4) rotate(-90)" class="ypp">(</text>
<text transform="translate(367.25,326.5) rotate(-90)" class="yp">%</text>
<text transform="translate(364.90,311.6) rotate(-90)" class="ypp">)</text>
<text transform="translate(428.87,279.5) scale(0.893,1)" class="e i">y</text>
<text transform="translate(438.50,279.5) scale(1.134,1)" class="e">=</text>
<text transform="translate(451.64,279.5) scale(0.898,1)" class="e">0.1325</text>
<text transform="translate(493.93,279.5) scale(1.118,1)" class="e i">x</text>
<text transform="translate(503.35,279.5) scale(1.070,1)" class="e">+</text>
<text transform="translate(514.74,279.5) scale(0.901,1)" class="e">40.127</text>
<text transform="translate(427.72,300.5) scale(0.944,1)" class="e i">R</text>
<text transform="translate(437.72,293.6) scale(0.962,1)" class="sup">2</text>
<text transform="translate(446.41,300.5) scale(1.121,1)" class="e">=</text>
<text transform="translate(459.53,300.5) scale(0.902,1)" class="e">0.0016,</text>
<text transform="translate(509.48,300.5) scale(1.073,1)" class="e i">p</text>
<text transform="translate(520.44,300.5) scale(1.083,1)" class="e">=</text>
<text transform="translate(532.12,300.5) scale(0.924,1)" class="e">0.832</text>
</g>
</svg>
</body></html>
